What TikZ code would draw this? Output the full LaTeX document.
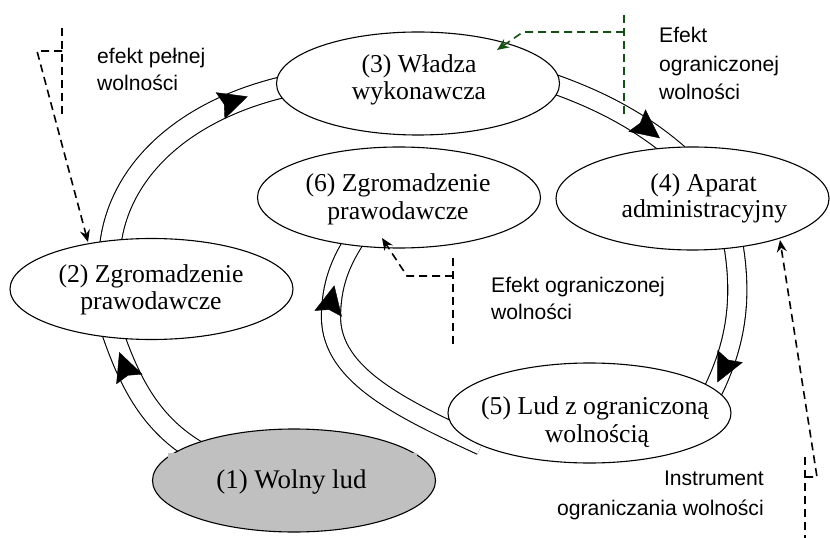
\documentclass[tikz,border=0pt]{standalone}
\usepackage{fontspec}
\setmainfont{Liberation Serif}
\newfontfamily\notesans{Liberation Sans}
\usetikzlibrary{shapes.geometric,arrows.meta,decorations.markings,calc}
\pgfdeclarelayer{tracks}
\pgfsetlayers{tracks,main}
\definecolor{ludgray}{RGB}{192,192,192}
\definecolor{notegreen}{RGB}{20,80,20}

\begin{document}
\begin{tikzpicture}[x=1bp,y=-1bp,
  ell/.style={ellipse, draw=black, line width=1.1bp, fill=white, inner sep=0pt,
    minimum width=283bp, minimum height=101bp},
  lbl/.style={font=\fontsize{25.8}{27}\selectfont, inner sep=0pt, anchor=base},
  note/.style={font=\notesans\fontsize{21.2}{27}\selectfont, inner sep=0pt},
  track/.style={draw=black, line width=1.1bp, double=white, double distance=#1,
    shorten <=-12bp, shorten >=-12bp},
  track/.default=18bp,
  tracktip/.style={line width=0.4bp, decorate, decoration={markings,
    mark=at position #1 with {\arrow{Stealth[length=29bp,width=28bp,inset=4bp]}}}},
  dashline/.style={draw=black, line width=1.6bp, dash pattern=on 8bp off 5bp},
  dashtip/.style={-{Stealth[length=12bp,width=10bp,inset=4bp]}},
]
\useasboundingbox (0,0) rectangle (830,538);

% stages of the cycle
\node[ell, fill=ludgray, minimum height=103bp] (n1) at (294,480.5) {};
\node[ell] (n2) at (151.5,289) {};
\node[ell, minimum height=103bp] (n3) at (418,83.5) {};
\node[ell, minimum width=273bp, minimum height=103bp] (n4) at (692.5,198.5) {};
\node[ell, minimum height=100bp] (n5) at (589.5,413) {};
\node[ell] (n6) at (399,197.5) {};

% grey text band of the first stage
\fill[ludgray] (168,453) rectangle (417,470);

% stage labels
\node[lbl, font=\fontsize{27}{28}\selectfont] (t1) at (291.5,488) {(1) Wolny lud};
\node[lbl] (t2a) at (151,283) {(2) Zgromadzenie};
\node[lbl] (t2b) at (151,310) {prawodawcze};
\node[lbl] (t3a) at (419,73) {(3) Władza};
\node[lbl] (t3b) at (419,100) {wykonawcza};
\node[lbl] (t4a) at (703.5,192) {(4) Aparat};
\node[lbl] (t4b) at (704.5,218) {administracyjny};
\node[lbl] (t5a) at (595,414) {(5) Lud z ograniczoną};
\node[lbl] (t5b) at (597,442) {wolnością};
\node[lbl] (t6a) at (398,192) {(6) Zgromadzenie};
\node[lbl] (t6b) at (398,220) {prawodawcze};

% side notes
\node[note, anchor=base west] (e1a) at (97,64) {efekt pełnej};
\node[note, anchor=base west] (e1b) at (97,91) {wolności};
\node[note, anchor=base west] (e2a) at (659,43) {Efekt};
\node[note, anchor=base west] (e2b) at (659,72) {ograniczonej};
\node[note, anchor=base west] (e2c) at (659,100) {wolności};
\node[note, anchor=base west] (e3a) at (491,293) {Efekt ograniczonej};
\node[note, anchor=base west] (e3b) at (491,320) {wolności};
\node[note, anchor=base east] (e4a) at (764,485) {Instrument};
\node[note, anchor=base east] (e4b) at (764,515) {ograniczania wolności};

% double-line tracks between the stages
\coordinate (loopw) at (331,318);
\begin{pgfonlayer}{tracks}
\draw[track=20bp] (n1.162) .. controls (152,425) and (130,385) .. (n2.233);
\draw[track=20bp] (n2.130) .. controls (115,175) and (180,110) .. (n3.182);
\draw[track] (n3.359) .. controls (595,98) and (640,120) .. (n4.113);
\draw[track] (n4.310) .. controls (742,290) and (740,340) .. (n5.11);
\draw[track] (n5.193) .. controls (400,408) and (332,375) .. (loopw)
  .. controls (331,285) and (340,262) .. (n6.225);
\end{pgfonlayer}

% direction heads on the tracks
\draw[tracktip=0.89] (n1.162) .. controls (152,425) and (130,385) .. (n2.233);
\draw[tracktip=0.875] (n2.130) .. controls (115,175) and (180,110) .. (n3.182);
\draw[tracktip=0.89] (n3.359) .. controls (595,98) and (640,120) .. (n4.113);
\draw[tracktip=0.95] (n4.310) .. controls (742,290) and (740,340) .. (n5.11);
\draw[tracktip=0.84] (n5.193) .. controls (400,408) and (332,375) .. (loopw)
  .. controls (331,285) and (340,262) .. (n6.225);

% dashed effect markers
\coordinate (l1top) at (62,28);
\coordinate (l1bot) at (62,117);
\coordinate (l1knee) at (62,51);
\coordinate (l1bend) at (37,51);
\draw[dashline] (l1top) -- (l1bot);
\draw[dashline, dashtip] (l1knee) -- (l1bend) -- ($(n2.center)+(-63.5,-47)$);

\coordinate (g1top) at (624,15);
\coordinate (g1bot) at (624,116);
\coordinate (g1knee) at (624,32);
\coordinate (g1bend) at (523,32);
\draw[dashline, draw=notegreen] (g1top) -- (g1bot);
\draw[dashline, draw=notegreen, notegreen, dashtip] (g1knee) -- (g1bend) -- ($(n3.center)+(79,-33.5)$);

\coordinate (m1top) at (453,258);
\coordinate (m1bot) at (453,347);
\coordinate (m1knee) at (453,276);
\coordinate (m1bend) at (407,276);
\draw[dashline] (m1top) -- (m1bot);
\draw[dashline, dashtip] (m1knee) -- (m1bend) -- ($(n6.center)+(-17,40.5)$);

\coordinate (r1top) at (805,457);
\coordinate (r1bot) at (805,538);
\coordinate (r1knee) at (805,477);
\coordinate (r1bend) at (817,477);
\draw[dashline] (r1top) -- (r1bot);
\draw[dashline, dashtip] (r1knee) -- (r1bend) -- ($(n4.center)+(87.5,41.5)$);
\end{tikzpicture}
\end{document}
